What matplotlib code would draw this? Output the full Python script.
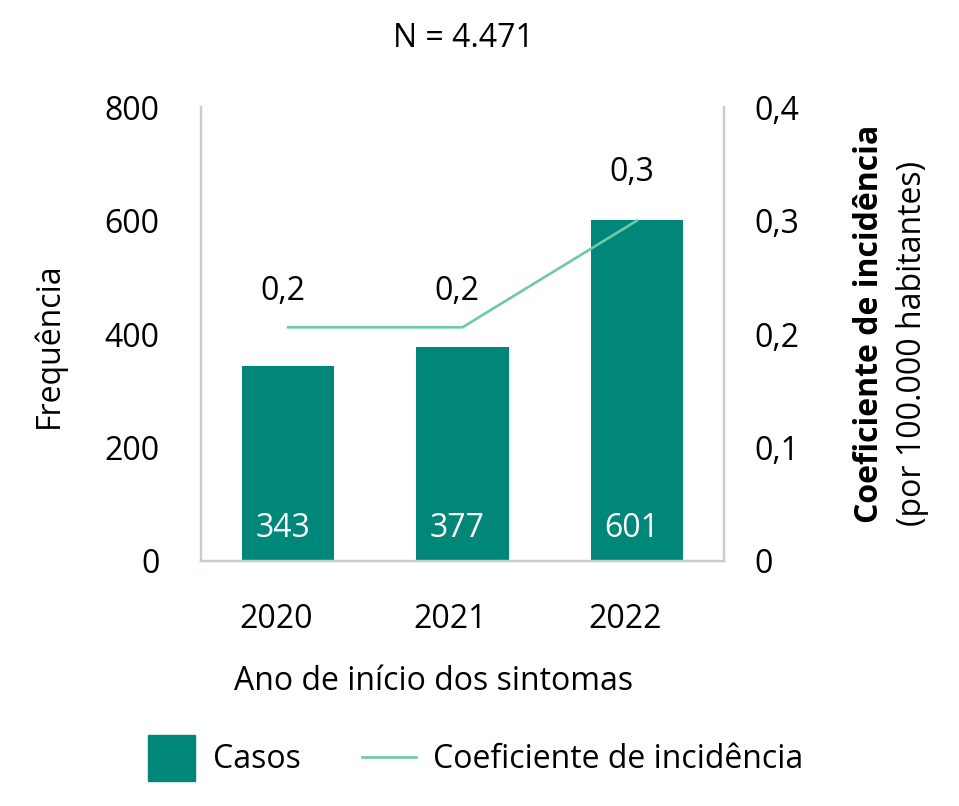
import matplotlib
matplotlib.use('Agg')
import matplotlib.pyplot as plt
from matplotlib.patches import Rectangle
from matplotlib.lines import Line2D
from matplotlib.transforms import ScaledTranslation

plt.rcParams['font.family'] = ['Open Sans', 'DejaVu Sans']

anos = ['2020', '2021', '2022']
casos = [343, 377, 601]
coef = [0.206, 0.206, 0.30]
coef_labels = ['0,2', '0,2', '0,3']
left_ticks = [0, 200, 400, 600, 800]
right_ticks = [0, 0.1, 0.2, 0.3, 0.4]
right_labels = ['0', '0,1', '0,2', '0,3', '0,4']

bar_color = '#00877A'
line_color = '#6DC9A9'
spine_color = '#C5CCD3'
fs = 23

fig = plt.figure(figsize=(9.59, 8.06), dpi=100)
ax = fig.add_axes([0.2096, 0.304, 0.5454, 0.563])
ax2 = ax.twinx()

x = list(range(len(anos)))
ax.bar(x, casos, width=0.53, color=bar_color, zorder=2)
for xi, v in zip(x, casos):
    ax.annotate(str(v), (xi, 58), xytext=(-4, 0), textcoords='offset points',
                ha='center', va='center', color='white', fontsize=fs)

ax.set_xlim(-0.5, 2.5)
ax.set_ylim(0, 800)
ax.set_yticks(left_ticks)
ax.set_xticks(x)
ax.set_xticklabels(anos)
ax.tick_params(axis='both', length=0, labelsize=fs)
ax.tick_params(axis='y', pad=30)
ax.tick_params(axis='x', pad=30)
# rótulos dos anos levemente deslocados à esquerda, como no original
shift = ScaledTranslation(-0.12, 0, fig.dpi_scale_trans)
for lab in ax.get_xticklabels():
    lab.set_transform(lab.get_transform() + shift)

ax2.plot(x, coef, color=line_color, linewidth=1.9, zorder=3)
offsets = [26, 26, 35]
for xi, v, lab, off in zip(x, coef, coef_labels, offsets):
    ax2.annotate(lab, (xi, v), xytext=(-4, off), textcoords='offset points',
                 ha='center', va='center', fontsize=fs)
ax2.set_ylim(0, 0.4)
ax2.set_yticks(right_ticks)
ax2.set_yticklabels(right_labels)
ax2.tick_params(axis='y', length=0, labelsize=fs, pad=22)

for a in (ax, ax2):
    a.spines['top'].set_visible(False)
    for s in ('left', 'right', 'bottom'):
        a.spines[s].set_color(spine_color)
        a.spines[s].set_linewidth(1.6)

ax.set_ylabel('Frequência', fontsize=fs)
ax.yaxis.set_label_coords(-0.259, 0.476)
ax.set_xlabel('Ano de início dos sintomas', fontsize=fs)
ax.xaxis.set_label_coords(0.444, -0.229)

fig.text(0.483, 0.952, 'N = 4.471', ha='center', va='center', fontsize=fs)

fig.text(0.907, 1 - 523 / 806, 'Coeficiente de incidência', rotation=90,
         ha='center', va='bottom', fontsize=fs, fontweight='bold')
fig.text(0.952, 1 - 526 / 806, '(por 100.000 habitantes)', rotation=90,
         ha='center', va='bottom', fontsize=fs)

# legenda
fig.add_artist(Rectangle((148 / 959, 1 - 781 / 806), 47 / 959, 46 / 806,
                         transform=fig.transFigure, color=bar_color))
fig.text(213 / 959, 1 - 760 / 806, 'Casos', ha='left', va='center', fontsize=fs)
fig.add_artist(Line2D([362 / 959, 416 / 959], [1 - 757 / 806, 1 - 757 / 806],
                      transform=fig.transFigure, color=line_color, linewidth=1.9))
fig.text(433 / 959, 1 - 760 / 806, 'Coeficiente de incidência', ha='left',
         va='center', fontsize=fs)

fig.savefig('out.png', dpi=100)
